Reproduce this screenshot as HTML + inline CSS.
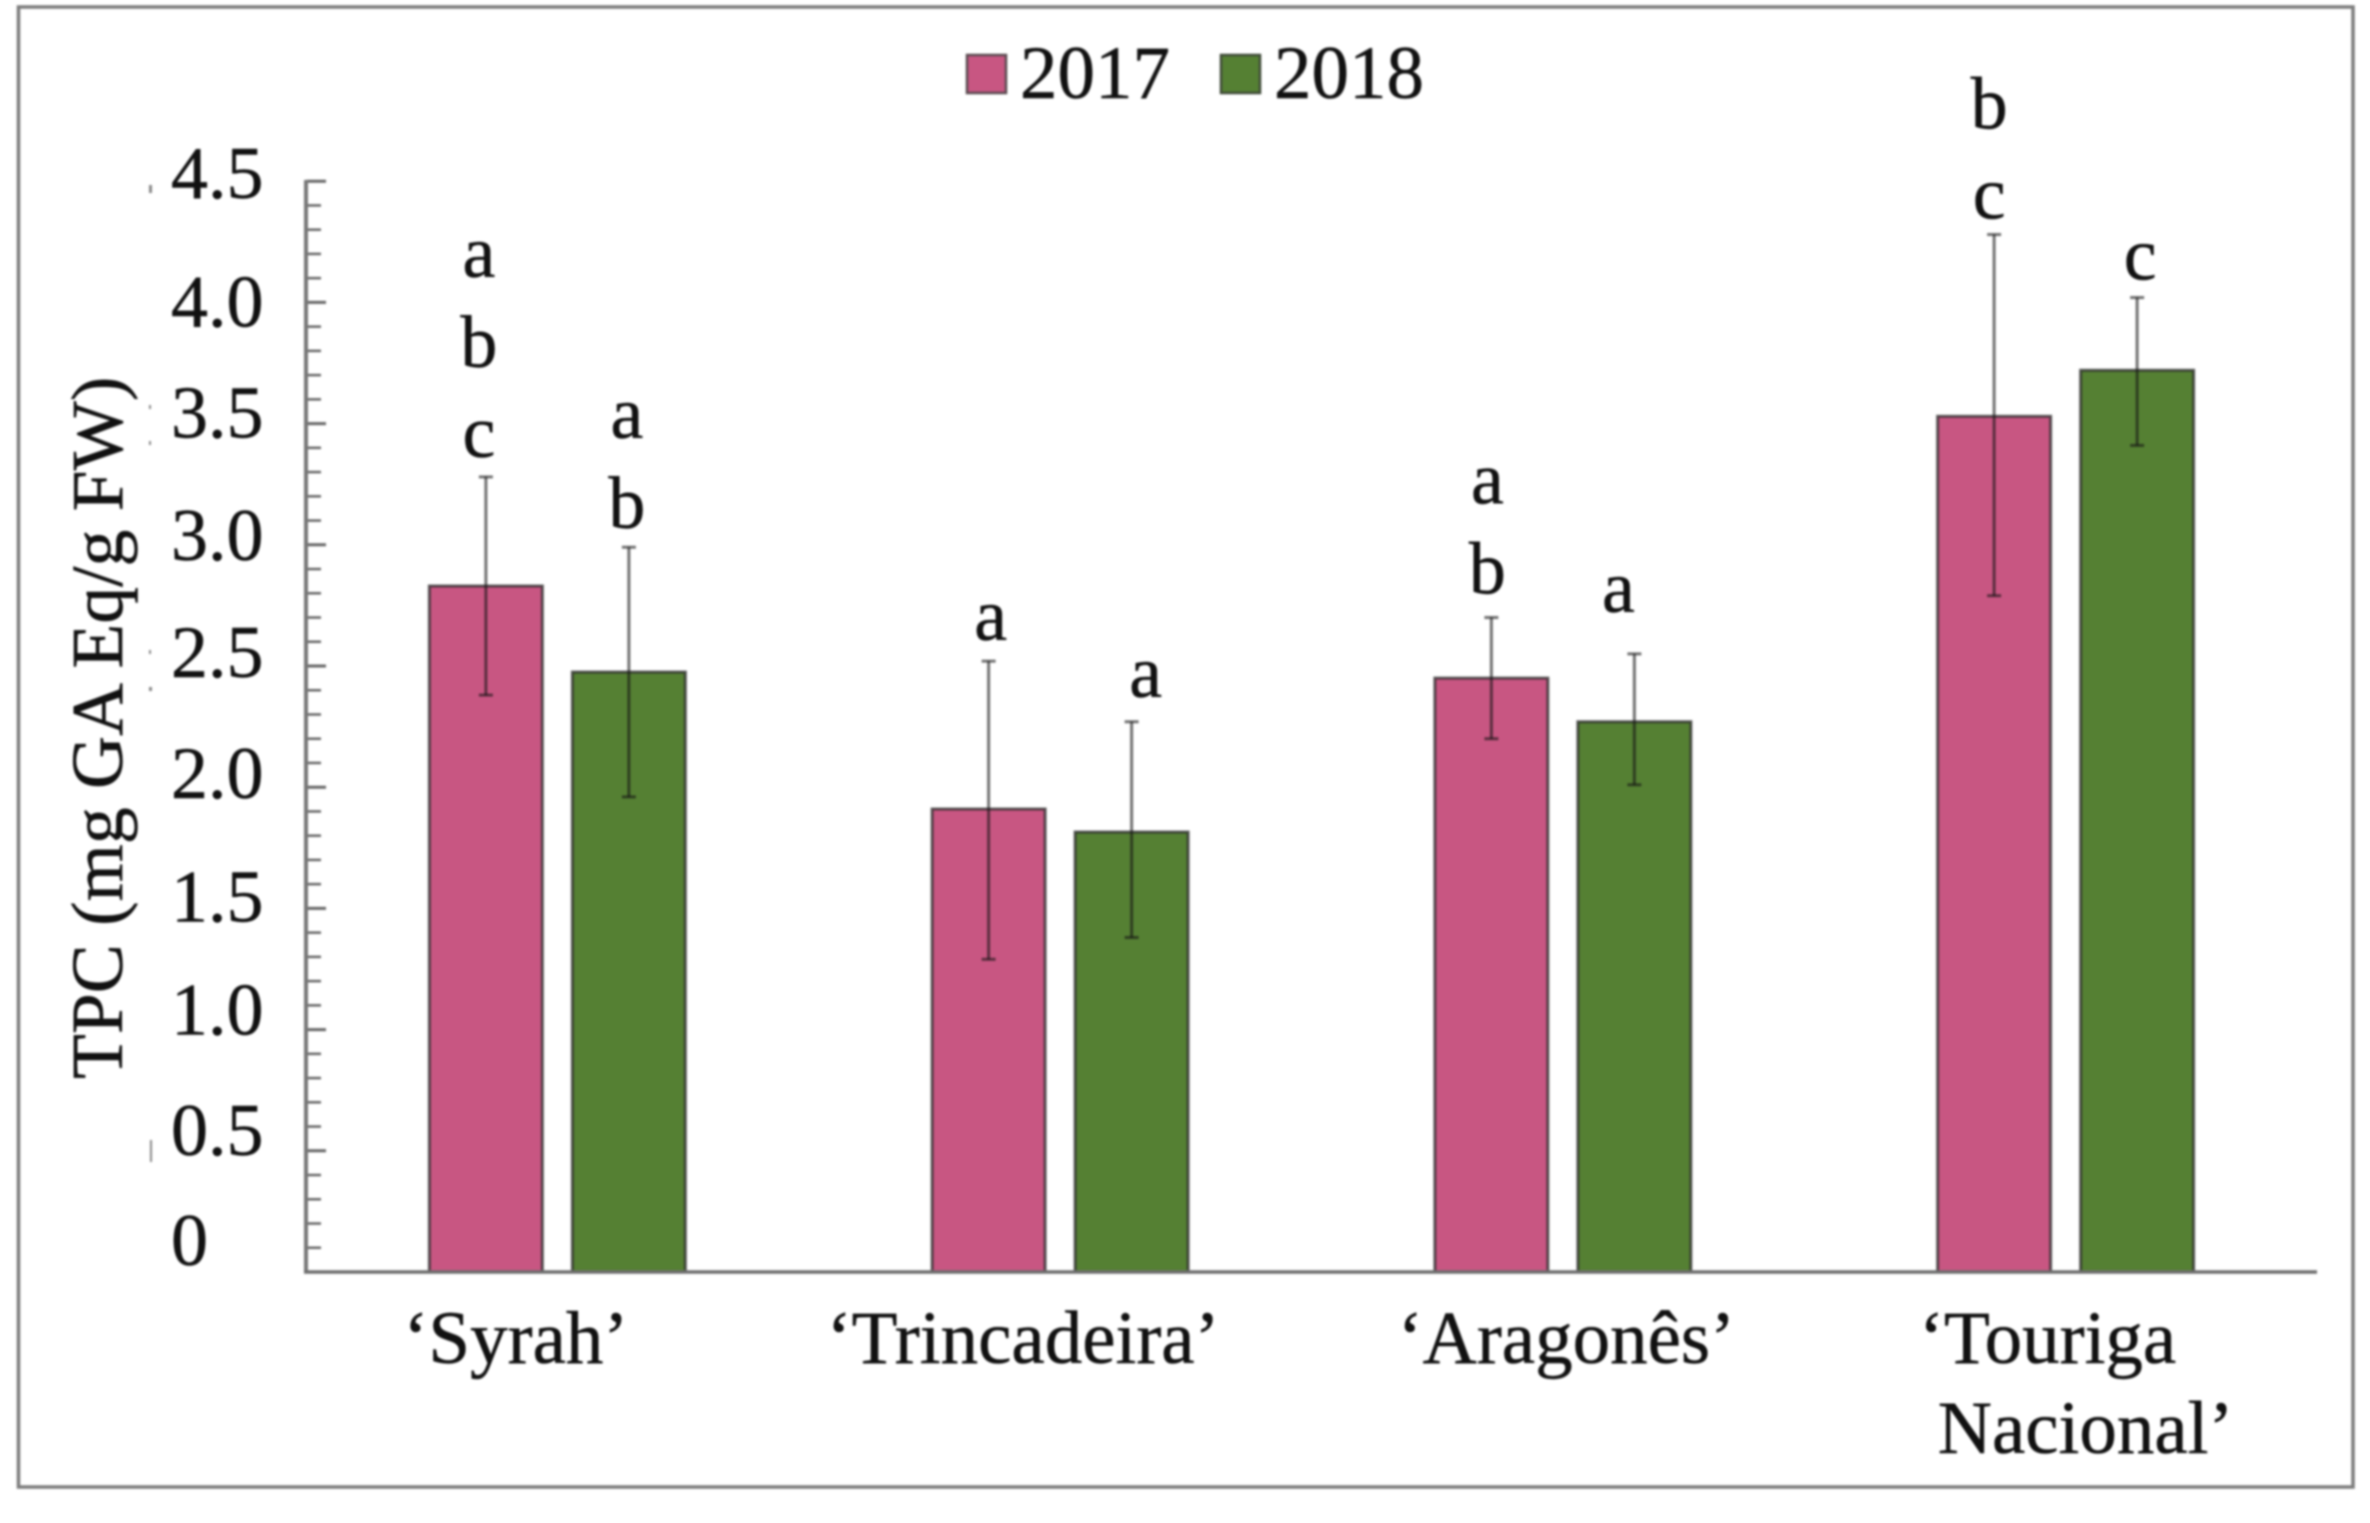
<!DOCTYPE html>
<html lang="en">
<head>
<meta charset="utf-8">
<title>TPC by cultivar, 2017 and 2018</title>
<style>
html,body{margin:0;padding:0;background:#fff;width:2370px;height:1523px;overflow:hidden}
svg{display:block;filter:blur(1px)}
text{font-family:"Liberation Serif",serif;fill:#111;stroke:#111;stroke-width:0.5px}
</style>
</head>
<body>
<svg id="chart" xmlns="http://www.w3.org/2000/svg" width="2370" height="1523" viewBox="0 0 2370 1523">
  <rect x="18.5" y="7" width="2334.5" height="1480" fill="#fff" stroke="#7c7c7c" stroke-width="3.5"/>
  <g>
    <g>
      <rect x="967" y="55" width="39" height="38" fill="#c85682" stroke="#5a4a50" stroke-width="2.5"/>
      <text x="1020" y="98" font-size="75">2017</text>
    </g>
    <g>
      <rect x="1221" y="55" width="39" height="38" fill="#558033" stroke="#3f4a38" stroke-width="2.5"/>
      <text x="1274" y="98" font-size="75">2018</text>
    </g>
  </g>
  <text transform="translate(122 1079) rotate(-90)" font-size="73.5">TPC (mg GA Eq/g FW)</text>
  <g id="ticks"></g>
  <g id="ticklabels"></g>
  <g id="bars"></g>
  <g id="errors"></g>
  <g id="letters"></g>
  <line x1="306" y1="180" x2="306" y2="1273.5" stroke="#777" stroke-width="4"/>
  <line x1="304" y1="1272" x2="2317" y2="1272" stroke="#6e6e6e" stroke-width="3.5"/>
  <g id="catlabels"></g>
  <g fill="#888">
    <rect x="149" y="185" width="3" height="8"/>
    <rect x="149" y="405" width="2" height="4"/>
    <rect x="149" y="441" width="2" height="4"/>
    <rect x="149" y="650" width="2" height="4"/>
    <rect x="149" y="687" width="3" height="4"/>
    <rect x="150" y="1140" width="2" height="22"/>
  </g>
</svg>
<script>
const categories = ["‘Syrah’", "‘Trincadeira’", "‘Aragonês’", "‘Touriga|Nacional’"];
const seriesNames = ["2017", "2018"];
const values2017 = [2.83, 1.91, 2.45, 3.53];
const values2018 = [2.475, 1.815, 2.27, 3.72];
const errLow2017 = [2.38, 1.29, 2.20, 2.79];
const errHigh2017 = [3.28, 2.52, 2.70, 4.28];
const errLow2018 = [1.96, 1.38, 2.01, 3.41];
const errHigh2018 = [2.99, 2.27, 2.55, 4.02];
const letters2017 = ["abc", "a", "ab", "bc"];
const letters2018 = ["ab", "a", "a", "c"];
const tickValues = [0, 0.5, 1, 1.5, 2, 2.5, 3, 3.5, 4, 4.5];
const tickLabels = ["0", "0.5", "1.0", "1.5", "2.0", "2.5", "3.0", "3.5", "4.0", "4.5"];

const svgNS = "http://www.w3.org/2000/svg";
const X0 = 306, X1 = 2317, Y0 = 1272, PX_PER_UNIT = 242.4;
const BAR_W = 113, BAR_OFF = 71.5;
const y = v => Y0 - v * PX_PER_UNIT;
const band = (X1 - X0) / categories.length;
const cx = i => X0 + band * (i + 0.5);

// hand-placement nudges seen in the source figure (layout only)
const tickLabelNudge = [-7, 4, 5, 13, 11, 11, 15, 14, 24, 17];
const catLabelNudge = [[-41.5], [-37], [3.5], [-18, 20]];
const letterNudge = [[-7, 20], [-2, 19], [2, 21], [14, 25], [-4, 24], [-16, 42], [-5, 16], [3, 18]];

function mk(tag, parent, attrs, txt) {
  const el = document.createElementNS(svgNS, tag);
  for (const k in attrs) el.setAttribute(k, attrs[k]);
  if (txt !== undefined) el.textContent = txt;
  parent.appendChild(el);
  return el;
}

const gTicks = document.getElementById("ticks");
for (let n = 0; n <= 45; n++) {
  const major = n % 5 === 0;
  const v = n / 10;
  const t = mk("line", gTicks, {x1: X0, x2: X0 + (major ? 20 : 15), y1: y(v), y2: y(v), stroke: "#666", "stroke-width": major ? 3 : 2.5});
  
  
}

const gTL = document.getElementById("ticklabels");
tickValues.forEach((v, i) => {
  const t = mk("text", gTL, {x: 171, y: y(v) + tickLabelNudge[i], "font-size": 74}, tickLabels[i]);
  
  
});

const gBars = document.getElementById("bars");
const gErr = document.getElementById("errors");
const gLet = document.getElementById("letters");
const gC = document.getElementById("catlabels");
const fills = ["#c85682", "#558033"];
const valueSets = [values2017, values2018];
const lowSets = [errLow2017, errLow2018];
const highSets = [errHigh2017, errHigh2018];
const letterSets = [letters2017, letters2018];

categories.forEach((c, i) => {
  seriesNames.forEach((s, j) => {
    const xc = cx(i) + (j === 0 ? -BAR_OFF : BAR_OFF);
    const val = valueSets[j][i];
    const r = mk("rect", gBars, {x: xc - BAR_W / 2, y: y(val), width: BAR_W, height: Y0 - y(val), fill: fills[j], stroke: "rgba(40,40,40,0.75)", "stroke-width": 3});
    
    

    const hi = y(highSets[j][i]), lo = y(lowSets[j][i]);
    const col = "rgba(20,20,20,0.6)";
    const e = mk("line", gErr, {x1: xc, x2: xc, y1: hi, y2: lo, stroke: col, "stroke-width": 3});
    
    
    const c1 = mk("line", gErr, {x1: xc - 7, x2: xc + 7, y1: hi, y2: hi, stroke: col, "stroke-width": 3});
    
    
    const c2 = mk("line", gErr, {x1: xc - 7, x2: xc + 7, y1: lo, y2: lo, stroke: col, "stroke-width": 3});
    
    

    const nudge = letterNudge[i * 2 + j];
    const word = letterSets[j][i];
    [...word].forEach((ch, k) => {
      const rowsBelow = word.length - 1 - k;
      const t = mk("text", gLet, {x: xc + nudge[0], y: hi - nudge[1] - rowsBelow * 90, "font-size": 74, "text-anchor": "middle"}, ch);
      
      
    });
  });

  c.split("|").forEach((line, k) => {
    const t = mk("text", gC, {x: cx(i) + catLabelNudge[i][k], y: 1363 + k * 90, "font-size": 75, "text-anchor": "middle"}, line);
    
    
  });
});
</script>
</body>
</html>
